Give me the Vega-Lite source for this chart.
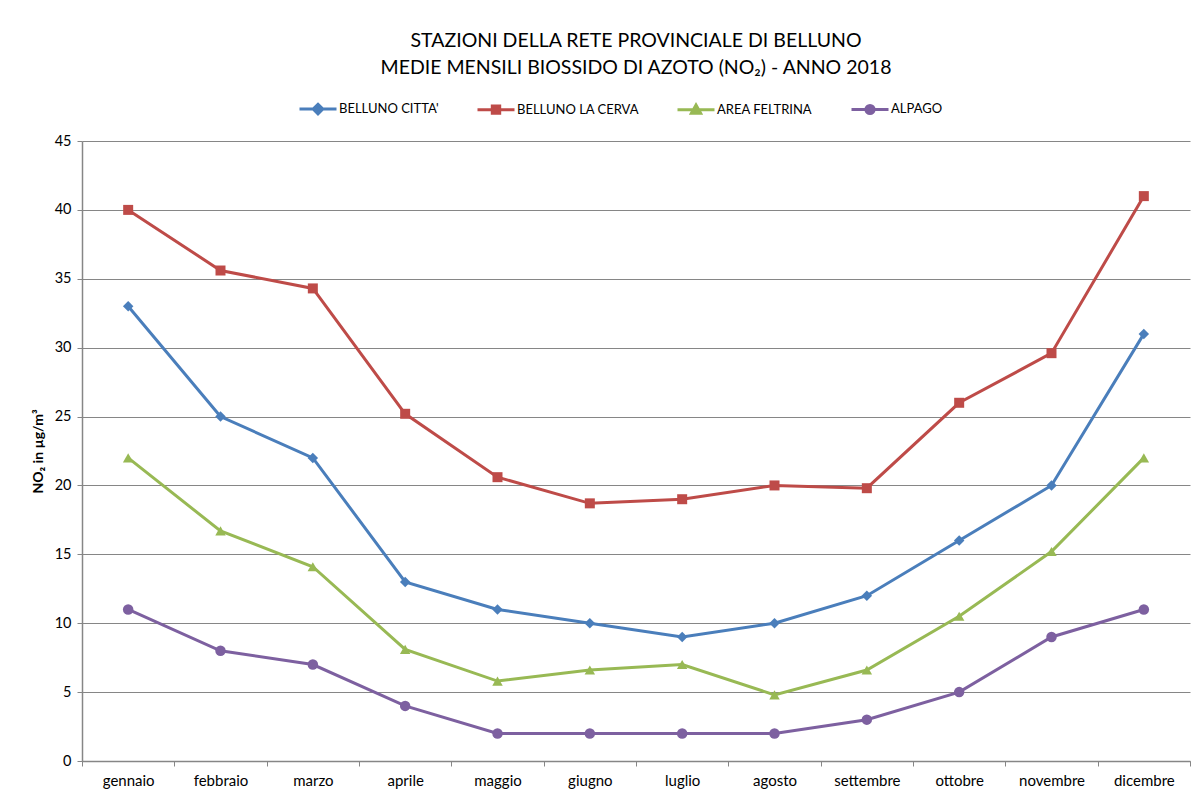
{
  "$schema": "https://vega.github.io/schema/vega-lite/v6.json",
  "width": 1108,
  "height": 620,
  "autosize": {"type": "none"},
  "padding": {"left": 82, "top": 141, "right": 10, "bottom": 35},
  "background": "white",
  "title": {
    "text": ["STAZIONI DELLA RETE PROVINCIALE DI BELLUNO", "MEDIE MENSILI BIOSSIDO DI AZOTO (NO₂) - ANNO 2018"],
    "anchor": "middle",
    "font": "Lato",
    "fontSize": 19.5,
    "fontWeight": "normal",
    "color": "black",
    "lineHeight": 27,
    "offset": 11
  },
  "config": {
    "view": {"stroke": null},
    "font": "Lato",
    "axis": {"labelFont": "Lato", "titleFont": "Lato", "labelColor": "black", "titleColor": "black", "domainColor": "#868686", "tickColor": "#868686", "gridColor": "#868686"}
  },
  "data": {
    "values": [
      {"mese": "gennaio", "stazione": "BELLUNO CITTA'", "valore": 33},
      {"mese": "febbraio", "stazione": "BELLUNO CITTA'", "valore": 25},
      {"mese": "marzo", "stazione": "BELLUNO CITTA'", "valore": 22},
      {"mese": "aprile", "stazione": "BELLUNO CITTA'", "valore": 13},
      {"mese": "maggio", "stazione": "BELLUNO CITTA'", "valore": 11},
      {"mese": "giugno", "stazione": "BELLUNO CITTA'", "valore": 10},
      {"mese": "luglio", "stazione": "BELLUNO CITTA'", "valore": 9},
      {"mese": "agosto", "stazione": "BELLUNO CITTA'", "valore": 10},
      {"mese": "settembre", "stazione": "BELLUNO CITTA'", "valore": 12},
      {"mese": "ottobre", "stazione": "BELLUNO CITTA'", "valore": 16},
      {"mese": "novembre", "stazione": "BELLUNO CITTA'", "valore": 20},
      {"mese": "dicembre", "stazione": "BELLUNO CITTA'", "valore": 31},
      {"mese": "gennaio", "stazione": "BELLUNO LA CERVA", "valore": 40},
      {"mese": "febbraio", "stazione": "BELLUNO LA CERVA", "valore": 35.6},
      {"mese": "marzo", "stazione": "BELLUNO LA CERVA", "valore": 34.3},
      {"mese": "aprile", "stazione": "BELLUNO LA CERVA", "valore": 25.2},
      {"mese": "maggio", "stazione": "BELLUNO LA CERVA", "valore": 20.6},
      {"mese": "giugno", "stazione": "BELLUNO LA CERVA", "valore": 18.7},
      {"mese": "luglio", "stazione": "BELLUNO LA CERVA", "valore": 19},
      {"mese": "agosto", "stazione": "BELLUNO LA CERVA", "valore": 20},
      {"mese": "settembre", "stazione": "BELLUNO LA CERVA", "valore": 19.8},
      {"mese": "ottobre", "stazione": "BELLUNO LA CERVA", "valore": 26},
      {"mese": "novembre", "stazione": "BELLUNO LA CERVA", "valore": 29.6},
      {"mese": "dicembre", "stazione": "BELLUNO LA CERVA", "valore": 41},
      {"mese": "gennaio", "stazione": "AREA FELTRINA", "valore": 22},
      {"mese": "febbraio", "stazione": "AREA FELTRINA", "valore": 16.7},
      {"mese": "marzo", "stazione": "AREA FELTRINA", "valore": 14.1},
      {"mese": "aprile", "stazione": "AREA FELTRINA", "valore": 8.1},
      {"mese": "maggio", "stazione": "AREA FELTRINA", "valore": 5.8},
      {"mese": "giugno", "stazione": "AREA FELTRINA", "valore": 6.6},
      {"mese": "luglio", "stazione": "AREA FELTRINA", "valore": 7},
      {"mese": "agosto", "stazione": "AREA FELTRINA", "valore": 4.8},
      {"mese": "settembre", "stazione": "AREA FELTRINA", "valore": 6.6},
      {"mese": "ottobre", "stazione": "AREA FELTRINA", "valore": 10.5},
      {"mese": "novembre", "stazione": "AREA FELTRINA", "valore": 15.2},
      {"mese": "dicembre", "stazione": "AREA FELTRINA", "valore": 22},
      {"mese": "gennaio", "stazione": "ALPAGO", "valore": 11},
      {"mese": "febbraio", "stazione": "ALPAGO", "valore": 8},
      {"mese": "marzo", "stazione": "ALPAGO", "valore": 7},
      {"mese": "aprile", "stazione": "ALPAGO", "valore": 4},
      {"mese": "maggio", "stazione": "ALPAGO", "valore": 2},
      {"mese": "giugno", "stazione": "ALPAGO", "valore": 2},
      {"mese": "luglio", "stazione": "ALPAGO", "valore": 2},
      {"mese": "agosto", "stazione": "ALPAGO", "valore": 2},
      {"mese": "settembre", "stazione": "ALPAGO", "valore": 3},
      {"mese": "ottobre", "stazione": "ALPAGO", "valore": 5},
      {"mese": "novembre", "stazione": "ALPAGO", "valore": 9},
      {"mese": "dicembre", "stazione": "ALPAGO", "valore": 11}
    ]
  },
  "encoding": {
    "x": {
      "field": "mese",
      "type": "nominal",
      "sort": ["gennaio", "febbraio", "marzo", "aprile", "maggio", "giugno", "luglio", "agosto", "settembre", "ottobre", "novembre", "dicembre"],
      "scale": {"type": "band", "paddingInner": 0, "paddingOuter": 0},
      "axis": {"title": null, "labelAngle": 0, "labelFontSize": 15, "labelPadding": 7, "tickBand": "extent", "tickSize": 5, "grid": false, "domainWidth": 1.5}
    },
    "y": {
      "field": "valore",
      "type": "quantitative",
      "scale": {"domain": [0, 45], "nice": false},
      "axis": {"title": "NO₂ in  µg/m³", "titleFontSize": 14, "titleFontWeight": "bold", "titlePadding": 9, "values": [0, 5, 10, 15, 20, 25, 30, 35, 40, 45], "labelFontSize": 14.5, "labelPadding": 6, "tickSize": 5, "grid": true, "gridWidth": 1, "domainWidth": 1.5}
    },
    "color": {
      "field": "stazione",
      "type": "nominal",
      "scale": {"domain": ["BELLUNO CITTA'", "BELLUNO LA CERVA", "AREA FELTRINA", "ALPAGO"], "range": ["#4A7EBB", "#BE4B48", "#98B954", "#7D60A0"]},
      "legend": {
        "orient": "none",
        "direction": "horizontal",
        "legendX": 216,
        "legendY": -52,
        "title": null,
        "labelFont": "Lato",
        "labelFontSize": 13,
        "labelColor": "black",
        "labelOffset": 1,
        "columnPadding": 32,
        "symbolSize": 1369,
        "symbolType": "circle",
        "encode": {
          "symbols": {
            "update": {
              "shape": {"signal": "datum.value === 'BELLUNO LA CERVA' ? 'M-1,0H1M-0.2,-0.2H0.2V0.2H-0.2Z' : datum.value === 'AREA FELTRINA' ? 'M-1,0H1M0,-0.25L0.25,0.2L-0.25,0.2Z' : datum.value === 'ALPAGO' ? 'M-1,0H1M0.22,0A0.22,0.22,0,1,1,-0.22,0A0.22,0.22,0,1,1,0.22,0Z' : 'M-1,0H1M0,-0.26L0.26,0L0,0.26L-0.26,0Z'"},
              "fill": {"signal": "scale('color', datum.value)"},
              "stroke": {"signal": "scale('color', datum.value)"},
              "strokeWidth": {"value": 3},
              "opacity": {"value": 1}
            }
          }
        }
      }
    }
  },
  "layer": [
    {
      "mark": {"type": "line", "strokeWidth": 3},
      "encoding": {}
    },
    {
      "transform": [{"filter": "datum.stazione === 'BELLUNO LA CERVA'"}],
      "mark": {"type": "point", "filled": true, "size": 100, "opacity": 1, "shape": "square"},
      "encoding": {}
    },
    {
      "transform": [{"filter": "datum.stazione === 'AREA FELTRINA'"}],
      "mark": {"type": "point", "filled": true, "size": 110, "opacity": 1, "shape": "triangle-up"},
      "encoding": {}
    },
    {
      "transform": [{"filter": "datum.stazione === 'ALPAGO'"}],
      "mark": {"type": "point", "filled": true, "size": 110, "opacity": 1, "shape": "circle"},
      "encoding": {}
    },
    {
      "transform": [{"filter": "datum.stazione !== 'BELLUNO LA CERVA' && datum.stazione !== 'AREA FELTRINA' && datum.stazione !== 'ALPAGO'"}],
      "mark": {"type": "point", "filled": true, "size": 110, "opacity": 1, "shape": "diamond"},
      "encoding": {}
    }
  ]
}
